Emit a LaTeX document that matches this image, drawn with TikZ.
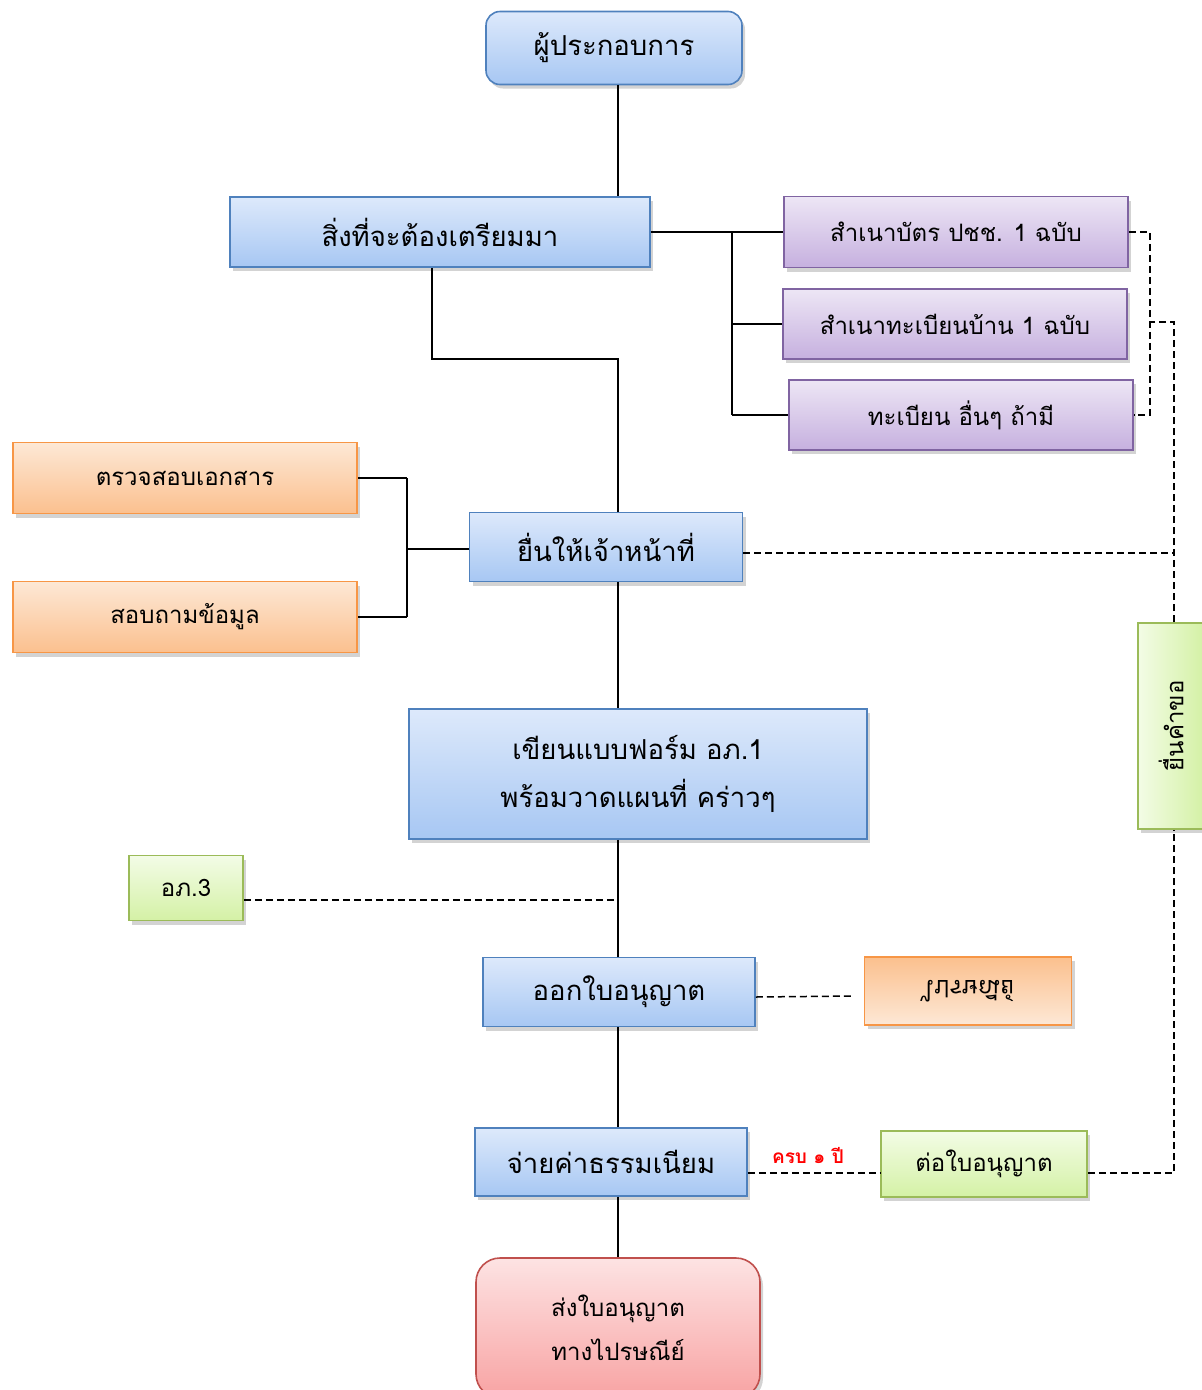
\documentclass[tikz,border=0pt]{standalone}
\usepackage{fontspec}
\newfontfamily\thaifont[Script=Thai]{Loma}
\usetikzlibrary{shadows}

\definecolor{bluetop}{HTML}{DDE9FB}
\definecolor{bluebot}{HTML}{A7C7F3}
\definecolor{blueline}{HTML}{4F81BD}
\definecolor{purpletop}{HTML}{EDE6F5}
\definecolor{purplebot}{HTML}{C6B0DF}
\definecolor{purpleline}{HTML}{8064A2}
\definecolor{orangetop}{HTML}{FDE8D6}
\definecolor{orangebot}{HTML}{FBC08E}
\definecolor{orangeline}{HTML}{F79646}
\definecolor{greentop}{HTML}{F3FCE6}
\definecolor{greenbot}{HTML}{D4F1A5}
\definecolor{greenline}{HTML}{9BBB59}
\definecolor{redtop}{HTML}{FDE3E3}
\definecolor{redbot}{HTML}{F8A3A3}
\definecolor{redline}{HTML}{C0504D}

\tikzset{
  box/.style={draw, line width=1.6pt, inner sep=0pt, minimum height=70pt,
    align=center, font=\thaifont\fontsize{24}{44}\selectfont,
    drop shadow={opacity=0.35, shadow xshift=3pt, shadow yshift=-4pt}},
  bluebox/.style={box, draw=blueline, top color=bluetop, bottom color=bluebot,
    font=\thaifont\fontsize{27.5}{48}\selectfont},
  purplebox/.style={box, draw=purpleline, top color=purpletop, bottom color=purplebot,
    minimum width=344pt, font=\thaifont\fontsize{24}{28}\selectfont},
  orangebox/.style={box, draw=orangeline, top color=orangetop, bottom color=orangebot,
    minimum width=344pt, minimum height=71pt, font=\thaifont\fontsize{24}{28}\selectfont},
  greenbox/.style={box, draw=greenline, top color=greentop, bottom color=greenbot},
  redbox/.style={box, draw=redline, top color=redtop, bottom color=redbot},
  link/.style={line width=1.5pt},
  dashlink/.style={line width=1.5pt, dash pattern=on 7pt off 4pt}
}

\begin{document}
\begin{tikzpicture}[x=1pt,y=-1pt]
  \useasboundingbox (0,0) rectangle (1202,1390);

  % main column
  \node[bluebox, rounded corners=14pt, minimum width=256pt, minimum height=73pt] (owner) at (614,48) {ผู้ประกอบการ};
  \node[bluebox, minimum width=420pt] (prep) at (440,232) {สิ่งที่จะต้องเตรียมมา};
  \node[bluebox, minimum width=273pt, minimum height=69pt] (submit) at (606,547) {ยื่นให้เจ้าหน้าที่};
  \node[bluebox, minimum width=458pt, minimum height=130pt] (form) at (638,774) {เขียนแบบฟอร์ม อภ.1\\พร้อมวาดแผนที่ คร่าวๆ};
  \node[bluebox, minimum width=272pt, minimum height=69pt] (issue) at (619,992) {ออกใบอนุญาต};
  \node[bluebox, minimum width=272pt, minimum height=68pt] (pay) at (611,1162) {จ่ายค่าธรรมเนียม};
  \node[redbox, rounded corners=24pt, minimum width=284pt, minimum height=140pt] (mail) at (618,1328) {ส่งใบอนุญาต\\ทางไปรษณีย์};

  % documents
  \node[purplebox, minimum height=71pt] (idcard) at (956,232) {สำเนาบัตร ปชช. 1 ฉบับ};
  \node[purplebox] (house) at (955,324) {สำเนาทะเบียนบ้าน 1 ฉบับ};
  \node[purplebox] (other) at (961,415) {ทะเบียน อื่นๆ ถ้ามี};

  % officer checks
  \node[orangebox] (check) at (185,478) {ตรวจสอบเอกสาร};
  \node[orangebox] (ask) at (185,617) {สอบถามข้อมูล};

  % side boxes
  \node[greenbox, minimum width=114pt, minimum height=65pt] (ap3) at (186,888) {อภ.3};
  \node[orangebox, top color=orangebot, bottom color=orangetop, minimum width=207pt, minimum height=68pt] (post) at (968,991) {\scalebox{1}[-1]{ไปรษณีย์}};
  \node[greenbox, minimum width=206pt, minimum height=66pt] (renew) at (984,1164) {ต่อใบอนุญาต};
  \node[greenbox, left color=greentop, right color=greenbot, minimum width=66pt, minimum height=206pt] (request) at (1171,726) {\rotatebox{90}{ยื่นคำขอ}};
  \node[text=red, font=\thaifont\fontsize{19}{22}\selectfont\bfseries] (year) at (808,1155) {ครบ ๑ ปี};

  \coordinate (mid) at (618,359);
  \coordinate (pj) at (732,232);
  \coordinate (oj) at (407,549);
  \coordinate (ap3end) at (618,900);
  \coordinate (rt) at (1174,1173);
  \coordinate (bk) at (1150,322);

  % solid links
  \draw[link] (owner.south -| mid) -- (mid |- prep.north);
  \draw[link] ([xshift=-8pt]prep.south) |- (mid) -- (mid |- submit.north);
  \draw[link] (mid |- submit.south) -- (mid |- form.north);
  \draw[link] (mid |- form.south) -- (mid |- issue.north);
  \draw[link] (mid |- issue.south) -- (mid |- pay.north);
  \draw[link] (mid |- pay.south) -- (mid |- mail.north);

  \draw[link] (prep.east) -- (pj);
  \draw[link] (pj |- idcard.west) -- (pj |- other.west);
  \draw[link] (pj |- idcard.west) -- (idcard.west);
  \draw[link] (pj |- house.west) -- (house.west);
  \draw[link] (pj |- other.west) -- (other.west);

  \draw[link] (submit.west |- oj) -- (oj);
  \draw[link] (oj |- check.east) -- (oj |- ask.east);
  \draw[link] (oj |- check.east) -- (check.east);
  \draw[link] (oj |- ask.east) -- (ask.east);

  % dashed links
  \draw[dashlink] (ap3.east |- ap3end) -- (ap3end);
  \draw[dashlink] ([yshift=-5pt]issue.east) -- ([xshift=-10pt,yshift=-5pt]post.west);
  \draw[dashlink] (pay.east |- rt) -- (renew.west |- rt);
  \draw[dashlink] (renew.east |- rt) -- (rt) -- (rt |- request.south);
  \draw[dashlink] ([yshift=-6pt]submit.east) -- ([yshift=-6pt]rt |- submit.east);
  \draw[dashlink] (request.north -| rt) -- (rt |- bk) -- (bk);
  \draw[dashlink] (idcard.east) -- (bk |- idcard.east) -- (bk |- other.east) -- (other.east);
\end{tikzpicture}
\end{document}
